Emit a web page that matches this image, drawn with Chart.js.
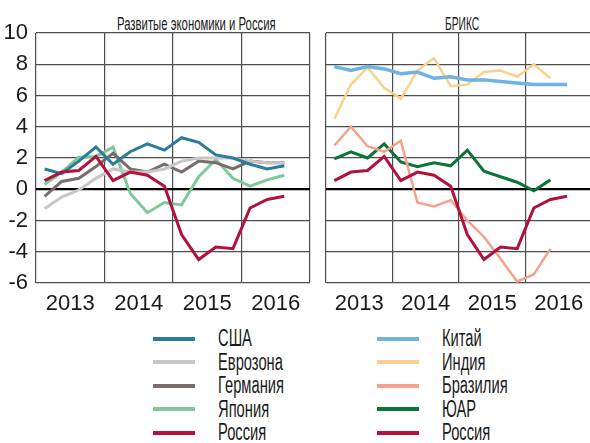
<!DOCTYPE html>
<html>
<head>
<meta charset="utf-8">
<script src="https://cdn.jsdelivr.net/npm/chart.js@4/dist/chart.umd.min.js"></script>
<style>
  body { margin: 0; width: 590px; height: 443px; overflow: hidden; background: #fff; position: relative;
         font-family: "Liberation Sans Narrow", "Liberation Sans", sans-serif; color: #1a1a1a; }
  canvas { position: absolute; top: 0; }
  #left { left: 0; }
  #right { left: 318px; }
  .title { position: absolute; top: 14px; font-size: 18px; line-height: 20px; white-space: nowrap;
           transform-origin: left top; }
  .legend { position: absolute; top: 327px; }
  .row { display: flex; align-items: center; height: 23.5px; }
  .sw { width: 42px; height: 4px; margin-right: 23px; }
  .lbl { font-size: 23px; line-height: 23px; white-space: nowrap; transform: scaleX(0.64); transform-origin: left center; }
</style>
</head>
<body>
<div class="title" style="left:117px; transform:scaleX(0.63)">Развитые экономики и Россия</div>
<div class="title" style="left:445px; transform:scaleX(0.57)">БРИКС</div>
<canvas id="left" width="318" height="320"></canvas>
<canvas id="right" width="282" height="320"></canvas>
<div class="legend" id="legend-left" style="left:153px"></div>
<div class="legend" id="legend-right" style="left:377px"></div>
<script>
// quarterly y/y GDP growth, 2013Q1 ... 2016Q3
const years = ['2013', '2014', '2015', '2016']

const usa      = [1.3, 1.0, 1.8, 2.7, 1.6, 2.4, 2.9, 2.5, 3.3, 3.0, 2.2, 2.0, 1.6, 1.3, 1.5]
const eurozone = [-1.25, -0.5, -0.05, 0.7, 1.3, 1.1, 1.1, 1.3, 1.8, 2.0, 2.0, 2.0, 1.8, 1.7, 1.7]
const germany  = [-0.45, 0.5, 0.7, 1.45, 2.3, 1.3, 1.1, 1.6, 1.1, 1.8, 1.7, 1.3, 1.8, 1.7, 1.7]
const japan    = [0.3, 1.1, 2.05, 2.1, 2.7, -0.25, -1.5, -0.85, -1.0, 0.8, 1.9, 0.7, 0.2, 0.6, 0.9]
const russia   = [0.55, 1.1, 1.2, 2.1, 0.55, 1.1, 0.9, 0.2, -2.9, -4.5, -3.7, -3.8, -1.2, -0.65, -0.45]

const china    = [7.85, 7.6, 7.85, 7.7, 7.4, 7.5, 7.1, 7.2, 7.0, 7.0, 6.9, 6.8, 6.7, 6.7, 6.7]
const india    = [4.5, 6.7, 7.8, 6.5, 5.8, 7.6, 8.4, 6.6, 6.7, 7.5, 7.6, 7.2, 8.0, 7.1]
const brazil   = [2.8, 4.0, 2.75, 2.4, 3.1, -0.85, -1.1, -0.7, -2.0, -3.05, -4.45, -5.9, -5.45, -3.8]
const rsa      = [1.95, 2.4, 2.0, 2.9, 1.75, 1.45, 1.7, 1.5, 2.5, 1.15, 0.8, 0.45, -0.1, 0.6]

const leftNames  = ['США', 'Еврозона', 'Германия', 'Япония', 'Россия']
const leftData   = [usa, eurozone, germany, japan, russia]
const leftColors = ['#2a7b9c', '#c6c6c6', '#7b6c6c', '#7fc89a', '#b0123c']
const leftWidths = [3, 3, 3, 3, 3]

const rightNames  = ['Китай', 'Индия', 'Бразилия', 'ЮАР', 'Россия']
const rightData   = [china, india, brazil, rsa, russia]
const rightColors = ['#70b2e0', '#f8d28d', '#f4a28e', '#0b7438', '#b0123c']
const rightWidths = [3.5, 2.5, 2.5, 3, 3]

const GRID = '#4d4d4d'
const FONT = {family: '"Liberation Sans Narrow", "Liberation Sans", sans-serif', size: 22}

function points(arr){
  return arr.map((v, i) => ({x: i + 0.5, y: v}))
}

function make_chart(id, names, data, colors, widths, withLabels){
  const datasets = names.map((name, i) => ({
    label: name,
    data: points(data[i]),
    borderColor: colors[i],
    borderWidth: widths[i],
    pointRadius: 0,
    tension: 0,
    fill: false,
    order: name === 'Россия' ? 0 : i + 1,
  }))

  return new Chart(document.getElementById(id), {
    type: 'line',
    data: {datasets: datasets},
    options: {
      responsive: false,
      animation: false,
      layout: {padding: {top: 33, bottom: 0, left: 0, right: 0}},
      plugins: {legend: {display: false}, tooltip: {enabled: false}},
      scales: {
        x: {
          type: 'linear',
          min: 0,
          max: 16,
          afterBuildTicks: s => { s.ticks = [0, 2, 4, 6, 8, 10, 12, 14, 16].map(v => ({value: v})) },
          afterFit: s => { s.height = 37 },
          border: {display: false},
          grid: {
            drawTicks: false,
            color: c => (c.tick && c.tick.value % 4 === 0) ? GRID : 'rgba(0,0,0,0)',
            lineWidth: 1.2,
          },
          ticks: {
            autoSkip: false,
            maxRotation: 0,
            padding: 8,
            color: '#1a1a1a',
            font: FONT,
            callback: v => (v % 4 === 2) ? years[(v - 2) / 4] : '',
          },
        },
        y: {
          min: -6,
          max: 10,
          afterFit: s => { s.width = withLabels ? 36 : 0 },
          border: {display: false},
          grid: {
            drawTicks: false,
            color: c => (c.tick && c.tick.value === 0) ? '#000' : GRID,
            lineWidth: c => (c.tick && c.tick.value === 0) ? 2.2 : 1.2,
          },
          ticks: {
            display: withLabels,
            stepSize: 2,
            padding: 8,
            color: '#1a1a1a',
            font: FONT,
          },
        },
      },
    },
  })
}

function make_legend(id, names, colors){
  const box = document.getElementById(id)
  names.forEach((name, i) => {
    const row = document.createElement('div')
    row.className = 'row'
    row.innerHTML = '<span class="sw" style="background:' + colors[i] + '"></span><span class="lbl">' + name + '</span>'
    box.appendChild(row)
  })
}

make_chart('left', leftNames, leftData, leftColors, leftWidths, true)
make_chart('right', rightNames, rightData, rightColors, rightWidths, false)
make_legend('legend-left', leftNames, leftColors)
make_legend('legend-right', rightNames, rightColors)
</script>
</body>
</html>
